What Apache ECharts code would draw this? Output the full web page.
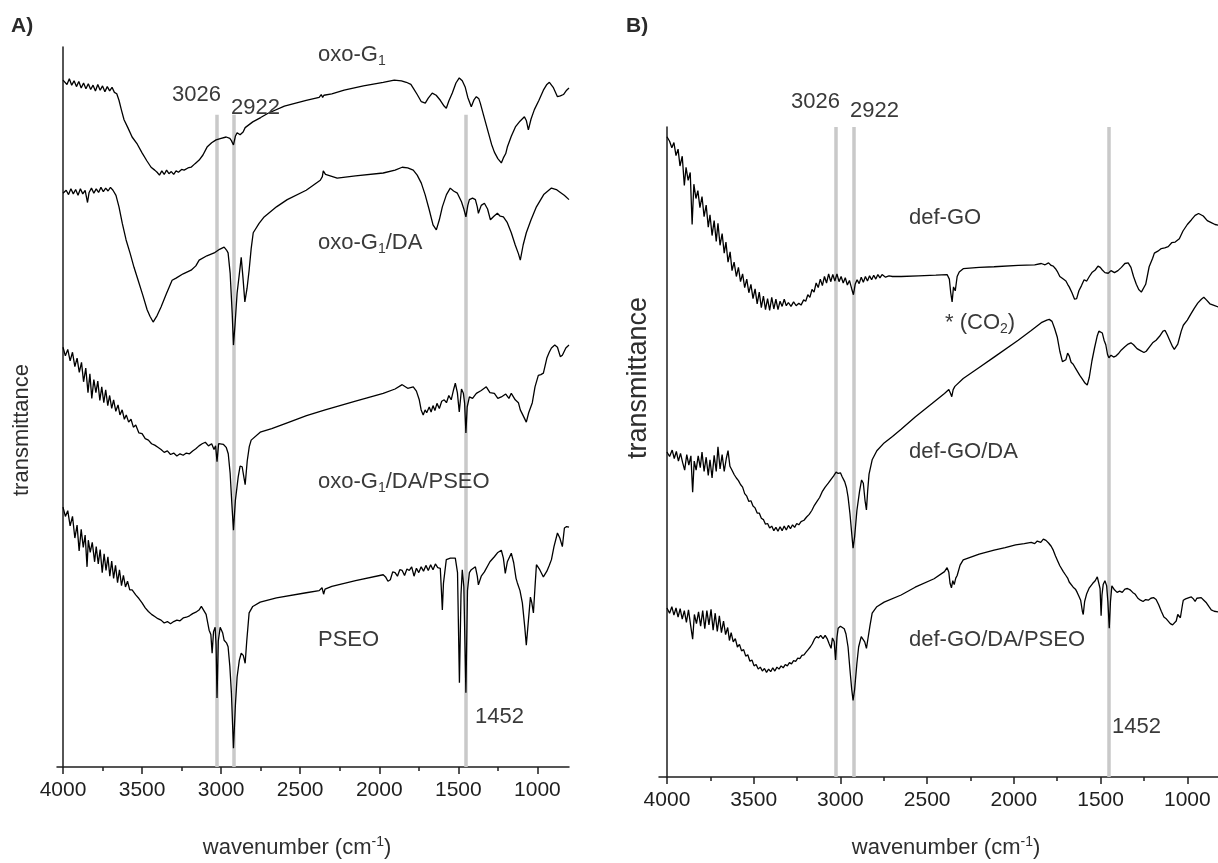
<!DOCTYPE html>
<html><head><meta charset="utf-8">
<script src="https://cdn.jsdelivr.net/npm/echarts@6/dist/echarts.min.js"></script>
<style>html,body{margin:0;padding:0;background:#fff}#c{width:1218px;height:863px}</style>
</head><body><div id="c"></div>
<script>
// ---------- tick labels / categories ----------
const wavenumberTicks = [4000, 3500, 3000, 2500, 2000, 1500, 1000];
const minorTicks = [3750, 3250, 2750, 2250, 1750, 1250];
const markedBands = [3026, 2922, 1452];

// ---------- panel A spectra [wavenumber, transmittance (a.u., offset)] ----------
const oxoG1 = [[4000,95.4],[3975,94.8],[3960,95.6],[3945,94.7],[3930,95.3],[3915,94.5],[3900,95.2],[3885,94.3],[3870,95.0],[3855,94.2],[3840,94.9],[3825,94.1],[3810,94.7],[3795,93.9],[3780,94.8],[3765,94.0],[3750,94.6],[3735,93.8],[3720,94.5],[3705,93.9],[3690,94.4],[3675,93.7],[3660,93.5],[3646,92.6],[3630,91.2],[3614,89.9],[3590,88.8],[3563,87.5],[3530,86.5],[3500,85.3],[3470,84.2],[3443,83.3],[3420,82.9],[3405,82.6],[3390,82.2],[3375,82.8],[3360,82.3],[3345,82.9],[3330,82.4],[3315,82.7],[3300,82.3],[3285,82.8],[3270,82.6],[3250,83.0],[3234,82.9],[3210,83.2],[3190,83.3],[3165,83.8],[3139,84.3],[3115,85.0],[3089,86.1],[3060,86.7],[3032,87.1],[3000,87.3],[2968,87.5],[2945,87.3],[2935,87.0],[2922,86.4],[2910,87.6],[2899,88.1],[2880,87.8],[2861,88.2],[2848,88.8],[2800,89.6],[2750,90.2],[2703,90.8],[2600,91.8],[2462,92.6],[2380,93.0],[2367,93.4],[2358,93.0],[2350,93.3],[2300,93.5],[2222,94.0],[2100,94.6],[1975,95.1],[1905,95.4],[1860,95.3],[1829,95.1],[1800,94.8],[1785,94.3],[1760,93.4],[1734,92.4],[1709,92.2],[1690,92.9],[1665,93.6],[1640,93.3],[1614,92.6],[1590,91.8],[1576,91.5],[1560,92.5],[1538,93.6],[1515,95.0],[1494,95.7],[1475,95.3],[1456,94.4],[1440,93.0],[1418,91.7],[1400,92.7],[1386,93.1],[1370,92.8],[1361,92.2],[1340,90.5],[1310,88.1],[1290,86.5],[1272,85.4],[1250,84.5],[1228,83.9],[1215,84.6],[1200,85.2],[1190,86.1],[1165,87.6],[1139,88.9],[1110,89.7],[1082,90.3],[1070,89.8],[1057,88.5],[1040,90.0],[1019,91.3],[990,92.6],[962,94.0],[940,94.8],[924,95.1],[900,94.4],[873,93.1],[855,93.2],[835,93.4],[815,94.0],[800,94.3]];

const oxoG1DA = [[4000,79.7],[3980,80.1],[3965,79.5],[3950,80.3],[3935,79.6],[3920,80.2],[3905,79.4],[3890,80.3],[3875,79.6],[3860,80.1],[3845,78.4],[3835,79.8],[3820,80.4],[3805,79.7],[3790,80.3],[3775,79.8],[3760,80.5],[3745,79.9],[3730,80.4],[3715,80.0],[3700,80.5],[3684,80.1],[3665,79.4],[3646,77.8],[3625,75.5],[3601,73.2],[3575,71.3],[3551,69.4],[3525,67.6],[3495,65.5],[3468,63.5],[3450,62.6],[3430,61.8],[3405,62.7],[3380,63.9],[3345,65.8],[3310,67.6],[3285,67.9],[3240,68.5],[3190,69.0],[3160,69.6],[3139,70.4],[3090,71.0],[3044,71.4],[3010,71.9],[2981,72.2],[2966,71.8],[2956,71.4],[2943,68.6],[2930,63.0],[2922,58.6],[2912,61.5],[2899,65.8],[2880,69.4],[2873,70.8],[2862,68.0],[2850,64.6],[2836,66.5],[2823,69.0],[2810,72.0],[2797,74.2],[2760,75.5],[2728,76.4],[2650,77.8],[2582,78.8],[2462,80.1],[2373,81.5],[2360,82.0],[2354,82.8],[2340,82.3],[2329,82.2],[2266,81.8],[2150,82.1],[1975,82.5],[1900,82.9],[1855,83.3],[1820,83.2],[1785,82.9],[1760,82.2],[1734,81.1],[1710,79.5],[1684,77.4],[1660,75.3],[1639,74.6],[1620,76.0],[1601,77.8],[1575,79.5],[1551,80.4],[1530,80.0],[1506,79.7],[1480,78.5],[1465,77.5],[1452,76.4],[1440,78.0],[1430,78.8],[1410,79.0],[1392,78.8],[1380,77.8],[1373,76.9],[1355,78.0],[1335,78.3],[1315,77.5],[1297,76.0],[1275,76.5],[1253,76.9],[1235,76.5],[1215,76.4],[1190,75.6],[1165,74.2],[1140,72.5],[1120,71.3],[1108,70.4],[1090,72.5],[1070,74.2],[1040,76.0],[1006,77.8],[960,79.5],[911,80.4],[880,80.2],[861,79.9],[830,79.4],[800,78.8]];

const oxoG1DAPSEO = [[4000,58.3],[3985,57.1],[3970,58.0],[3955,56.4],[3940,57.6],[3925,55.6],[3911,56.8],[3897,54.8],[3883,56.2],[3870,53.5],[3856,55.4],[3842,52.0],[3830,54.6],[3818,51.2],[3805,53.8],[3792,52.0],[3780,53.6],[3767,50.9],[3755,52.8],[3742,50.6],[3730,52.4],[3717,50.2],[3705,51.6],[3692,49.8],[3680,51.0],[3666,49.4],[3652,50.3],[3640,48.9],[3626,49.6],[3612,48.3],[3600,48.9],[3585,47.9],[3570,48.3],[3555,47.2],[3540,47.5],[3520,46.4],[3500,46.3],[3480,45.6],[3460,45.4],[3440,44.9],[3420,44.7],[3400,44.4],[3380,44.1],[3360,43.7],[3340,43.9],[3320,43.4],[3300,43.6],[3280,43.2],[3260,43.5],[3240,43.3],[3220,43.6],[3200,43.5],[3180,43.9],[3160,44.2],[3140,44.6],[3120,44.9],[3100,45.1],[3080,44.6],[3060,44.9],[3045,44.1],[3035,44.6],[3026,42.4],[3016,44.9],[3006,45.1],[2985,44.8],[2968,44.4],[2955,43.5],[2943,40.8],[2932,36.5],[2922,32.9],[2910,37.0],[2892,40.3],[2880,41.8],[2867,41.7],[2858,40.5],[2848,39.2],[2835,42.5],[2822,44.5],[2810,45.4],[2753,46.5],[2680,47.0],[2582,47.8],[2460,48.8],[2342,49.6],[2150,50.8],[1975,51.9],[1900,52.5],[1855,53.1],[1820,52.6],[1785,52.8],[1765,52.2],[1747,51.0],[1735,49.6],[1722,48.9],[1710,49.6],[1700,49.2],[1684,50.0],[1672,49.3],[1660,50.2],[1648,49.5],[1635,50.5],[1620,49.8],[1605,50.8],[1589,51.0],[1575,50.6],[1560,51.6],[1545,51.0],[1530,52.4],[1519,53.3],[1506,52.0],[1494,49.3],[1480,52.5],[1468,51.9],[1460,50.5],[1452,46.4],[1444,50.0],[1430,51.4],[1410,51.2],[1386,51.9],[1355,52.3],[1323,52.8],[1300,52.0],[1272,51.9],[1250,51.2],[1228,51.4],[1200,51.8],[1180,51.2],[1165,51.9],[1140,51.0],[1120,50.6],[1108,49.6],[1090,48.8],[1070,47.9],[1055,49.2],[1045,49.0],[1032,50.6],[1015,52.8],[994,54.4],[978,54.5],[962,54.7],[940,56.8],[925,57.6],[911,58.2],[890,58.6],[873,58.3],[855,57.0],[842,57.2],[820,58.2],[800,58.6]];

const PSEO = [[4000,36.1],[3985,34.8],[3970,35.6],[3955,33.5],[3940,34.8],[3925,31.8],[3911,33.6],[3898,30.0],[3885,33.0],[3872,30.5],[3860,32.2],[3848,27.8],[3840,31.5],[3828,29.8],[3815,31.2],[3800,28.5],[3790,30.6],[3777,28.2],[3765,30.2],[3752,27.0],[3740,29.6],[3728,27.3],[3716,29.2],[3704,26.5],[3692,28.6],[3680,26.2],[3668,28.0],[3655,25.6],[3643,27.4],[3630,25.2],[3618,26.6],[3605,25.0],[3592,25.8],[3578,24.6],[3563,24.6],[3540,23.9],[3520,23.4],[3500,22.8],[3480,22.1],[3460,21.6],[3440,21.2],[3420,20.9],[3400,20.6],[3380,20.4],[3360,20.0],[3340,20.2],[3320,19.9],[3300,20.2],[3280,20.4],[3260,20.3],[3240,20.7],[3220,20.8],[3200,21.0],[3180,21.3],[3160,21.5],[3140,21.8],[3125,22.3],[3114,22.1],[3095,21.2],[3076,19.0],[3065,18.4],[3057,15.8],[3048,18.8],[3038,19.4],[3032,17.0],[3026,9.6],[3018,17.5],[3006,19.4],[2990,18.6],[2981,17.6],[2965,17.2],[2956,16.7],[2945,14.0],[2935,10.3],[2922,2.6],[2910,8.5],[2899,12.5],[2885,14.8],[2873,15.8],[2860,15.5],[2848,14.4],[2838,17.5],[2823,21.4],[2800,22.3],[2753,22.9],[2650,23.5],[2462,24.2],[2380,24.5],[2362,24.9],[2352,24.0],[2343,24.7],[2300,25.1],[2150,25.9],[1975,26.7],[1960,26.4],[1945,25.8],[1930,26.0],[1915,27.1],[1900,27.0],[1885,26.5],[1870,27.4],[1855,27.3],[1840,26.6],[1825,27.5],[1810,27.3],[1795,27.8],[1780,26.5],[1765,27.6],[1750,27.0],[1735,27.8],[1720,27.2],[1705,28.0],[1690,27.3],[1675,28.1],[1660,27.4],[1645,28.2],[1630,27.7],[1614,27.6],[1608,25.0],[1601,21.8],[1594,25.5],[1576,28.8],[1550,29.0],[1519,29.0],[1505,27.0],[1493,11.7],[1483,24.0],[1475,27.4],[1465,25.0],[1452,10.3],[1442,24.5],[1430,27.0],[1418,27.4],[1392,27.8],[1380,26.5],[1373,25.3],[1355,26.5],[1335,27.1],[1300,28.5],[1272,29.2],[1250,29.8],[1228,30.1],[1215,29.0],[1203,26.9],[1190,28.5],[1165,29.7],[1150,28.4],[1135,26.2],[1127,25.6],[1110,24.5],[1095,22.8],[1080,19.5],[1070,16.9],[1060,19.5],[1044,23.6],[1035,22.8],[1025,21.4],[1015,25.0],[1006,28.1],[985,27.4],[962,26.4],[940,27.2],[925,28.0],[911,28.8],[895,30.6],[873,32.5],[858,31.8],[842,30.6],[829,33.2],[815,33.4],[800,33.3]];

// ---------- panel B spectra ----------
const defGO = [[4000,98.5],[3985,97.8],[3972,96.8],[3960,97.6],[3948,95.6],[3936,96.6],[3925,94.0],[3912,95.5],[3900,91.0],[3890,93.8],[3878,91.8],[3866,93.0],[3855,85.0],[3845,91.2],[3833,89.0],[3822,90.2],[3810,87.6],[3798,89.3],[3786,86.2],[3774,88.0],[3762,84.6],[3752,86.5],[3740,83.3],[3728,85.6],[3716,82.4],[3706,85.2],[3694,81.8],[3682,83.6],[3670,80.6],[3660,82.3],[3648,79.2],[3636,80.8],[3625,77.9],[3613,79.2],[3600,77.0],[3588,78.4],[3576,76.2],[3564,77.4],[3552,75.3],[3540,76.6],[3528,74.5],[3516,75.8],[3504,73.6],[3492,75.1],[3480,72.8],[3468,74.6],[3456,72.2],[3444,74.0],[3432,71.9],[3420,73.6],[3408,71.8],[3396,73.8],[3384,72.0],[3372,73.5],[3360,71.9],[3348,73.2],[3336,72.4],[3324,73.5],[3312,72.5],[3300,73.0],[3285,72.4],[3270,73.1],[3255,72.5],[3240,72.9],[3227,72.6],[3212,73.4],[3200,73.2],[3188,74.2],[3176,73.8],[3164,75.0],[3152,74.6],[3140,76.0],[3128,75.3],[3116,76.6],[3104,75.6],[3092,77.0],[3080,76.0],[3068,77.4],[3056,76.2],[3044,77.3],[3032,76.3],[3020,77.4],[3008,76.2],[2996,77.0],[2984,76.0],[2972,76.8],[2960,75.7],[2948,76.4],[2936,75.2],[2925,74.2],[2915,75.8],[2904,76.5],[2892,75.9],[2880,76.9],[2868,76.1],[2856,77.0],[2844,76.3],[2832,77.1],[2820,76.5],[2808,77.2],[2796,76.6],[2784,77.3],[2772,76.8],[2760,77.3],[2740,76.9],[2720,77.1],[2700,77.0],[2650,77.0],[2550,77.1],[2450,77.2],[2385,77.3],[2372,76.6],[2364,74.5],[2356,73.1],[2348,75.4],[2338,74.8],[2327,77.0],[2315,77.7],[2292,78.2],[2200,78.4],[2114,78.5],[1975,78.7],[1880,78.8],[1842,79.0],[1820,78.8],[1800,79.1],[1785,78.7],[1773,78.6],[1760,78.2],[1750,77.8],[1735,77.0],[1715,76.6],[1700,76.3],[1690,75.8],[1681,75.4],[1665,74.5],[1650,73.5],[1638,73.6],[1625,74.8],[1610,75.6],[1595,76.5],[1580,76.3],[1565,77.0],[1550,77.6],[1531,78.0],[1515,78.6],[1502,78.4],[1490,78.0],[1475,77.6],[1456,77.5],[1440,77.9],[1420,77.6],[1400,77.9],[1380,78.4],[1360,79.0],[1341,79.1],[1325,78.4],[1310,77.0],[1294,75.8],[1280,75.0],[1265,74.6],[1254,74.6],[1240,75.8],[1220,78.5],[1200,79.8],[1190,80.6],[1170,80.9],[1150,81.3],[1130,81.4],[1110,81.6],[1090,82.2],[1070,82.3],[1046,82.8],[1025,84.0],[1000,85.0],[977,85.7],[955,86.4],[935,86.7],[908,86.3],[885,85.6],[862,85.3],[840,85.0],[821,84.9]];

const defGODA = [[4000,50.0],[3985,49.3],[3970,50.3],[3958,49.0],[3946,50.1],[3934,48.6],[3922,49.8],[3910,48.4],[3898,47.2],[3886,49.6],[3874,48.0],[3862,49.4],[3852,43.8],[3843,48.6],[3832,47.2],[3820,49.4],[3808,47.6],[3798,50.0],[3786,47.0],[3774,49.2],[3762,46.4],[3752,48.8],[3740,46.0],[3728,49.5],[3716,47.0],[3706,50.8],[3694,47.4],[3682,49.6],[3670,47.0],[3658,49.0],[3648,50.2],[3637,47.8],[3625,47.2],[3612,46.5],[3600,46.0],[3588,45.6],[3576,45.0],[3564,44.6],[3552,43.6],[3540,43.2],[3528,42.4],[3516,42.5],[3504,41.7],[3492,41.4],[3480,40.6],[3468,40.6],[3456,39.8],[3444,39.6],[3432,38.9],[3420,39.0],[3408,38.3],[3396,38.6],[3384,37.9],[3372,38.4],[3360,37.8],[3348,38.5],[3336,37.9],[3324,38.6],[3312,38.0],[3300,38.7],[3288,38.2],[3276,38.8],[3264,38.4],[3252,39.0],[3240,38.8],[3227,39.3],[3210,39.5],[3195,40.0],[3180,40.4],[3165,41.0],[3150,41.8],[3135,42.4],[3120,43.0],[3105,43.9],[3088,44.6],[3070,45.2],[3054,45.8],[3040,46.3],[3025,46.9],[3013,46.7],[3000,46.8],[2990,46.2],[2975,45.4],[2965,44.5],[2956,43.1],[2945,40.5],[2935,37.5],[2927,35.2],[2918,37.0],[2905,41.0],[2890,43.9],[2878,45.7],[2868,45.2],[2858,42.5],[2850,41.1],[2843,44.0],[2835,46.6],[2817,48.8],[2790,50.2],[2748,51.4],[2700,52.4],[2650,53.5],[2569,55.4],[2470,57.5],[2400,59.0],[2375,59.6],[2365,59.0],[2358,58.5],[2350,59.6],[2340,60.1],[2292,61.3],[2200,63.0],[2114,64.6],[1975,67.2],[1900,68.7],[1842,69.9],[1810,70.3],[1796,70.4],[1780,70.1],[1765,69.0],[1750,67.7],[1735,65.5],[1720,63.9],[1710,63.6],[1700,64.2],[1690,65.2],[1681,64.8],[1670,63.8],[1658,63.5],[1645,62.9],[1635,62.6],[1620,61.8],[1605,61.2],[1590,60.6],[1577,60.3],[1565,61.5],[1550,64.0],[1535,66.0],[1520,67.8],[1510,68.6],[1500,68.8],[1490,68.3],[1480,67.2],[1470,66.5],[1460,65.0],[1452,64.5],[1440,64.9],[1425,64.6],[1410,64.8],[1395,65.2],[1380,65.7],[1360,66.2],[1341,66.6],[1325,66.8],[1310,66.5],[1290,65.9],[1270,65.6],[1250,65.3],[1237,65.5],[1220,66.1],[1200,66.8],[1180,67.2],[1160,67.8],[1140,68.6],[1128,68.7],[1115,68.0],[1105,67.4],[1095,67.1],[1085,66.2],[1075,65.8],[1064,65.7],[1055,66.6],[1046,67.5],[1035,68.6],[1023,69.5],[1000,70.3],[980,71.2],[960,72.1],[940,72.9],[919,73.5],[905,73.8],[890,73.4],[870,72.8],[850,72.6],[821,72.3]];

const defGODAPSEO = [[4000,26.0],[3985,25.2],[3972,26.2],[3960,24.9],[3948,26.0],[3936,24.6],[3924,25.9],[3912,24.3],[3900,25.6],[3888,23.8],[3876,25.7],[3864,23.4],[3852,21.2],[3842,25.0],[3830,23.6],[3818,25.4],[3806,23.2],[3794,25.6],[3782,22.8],[3770,25.6],[3758,23.4],[3746,25.8],[3734,22.6],[3722,25.2],[3710,22.4],[3698,24.8],[3686,22.2],[3674,24.0],[3662,21.9],[3650,23.0],[3640,21.0],[3630,22.2],[3618,20.8],[3606,21.3],[3594,20.0],[3582,20.4],[3570,19.4],[3558,19.6],[3546,18.6],[3534,18.8],[3522,17.8],[3510,18.0],[3498,17.1],[3486,17.3],[3474,16.6],[3462,16.9],[3450,16.3],[3438,16.7],[3426,16.1],[3414,16.6],[3402,16.2],[3390,16.8],[3378,16.3],[3366,16.9],[3354,16.6],[3342,17.1],[3330,16.8],[3318,17.3],[3306,17.1],[3294,17.6],[3282,17.4],[3270,17.9],[3258,17.8],[3246,18.3],[3234,18.2],[3222,18.7],[3210,18.8],[3198,19.2],[3186,19.6],[3174,20.0],[3162,20.5],[3150,21.2],[3138,21.6],[3126,21.4],[3114,21.8],[3100,21.3],[3088,21.8],[3075,21.2],[3065,20.5],[3054,19.8],[3046,21.4],[3036,20.8],[3028,18.0],[3020,21.5],[3013,22.9],[3000,23.2],[2990,23.4],[2978,22.8],[2968,22.0],[2956,20.0],[2945,16.5],[2935,13.5],[2927,11.8],[2918,13.5],[2905,17.5],[2895,20.0],[2880,21.6],[2870,21.8],[2860,20.8],[2850,19.8],[2840,21.5],[2830,23.2],[2817,25.2],[2790,26.2],[2748,26.9],[2650,28.0],[2569,29.2],[2460,30.5],[2400,31.6],[2385,32.2],[2375,31.5],[2368,29.8],[2360,29.1],[2352,30.2],[2344,29.6],[2335,30.6],[2327,31.0],[2310,32.6],[2292,33.4],[2200,34.3],[2114,34.9],[2050,35.3],[1990,35.7],[1940,35.9],[1900,36.1],[1880,35.9],[1865,36.3],[1845,36.1],[1830,36.6],[1815,36.4],[1800,36.0],[1785,35.5],[1773,34.9],[1760,34.0],[1750,33.4],[1735,32.5],[1715,31.6],[1700,31.0],[1690,30.6],[1681,30.0],[1670,29.8],[1658,29.2],[1645,28.9],[1635,28.4],[1625,27.8],[1615,27.2],[1605,25.5],[1600,25.0],[1592,27.0],[1580,28.2],[1565,29.1],[1545,29.8],[1531,30.2],[1519,30.8],[1510,30.5],[1503,29.0],[1497,24.8],[1492,28.0],[1485,29.6],[1475,30.2],[1465,29.4],[1458,27.0],[1450,22.9],[1443,27.0],[1435,29.4],[1420,28.8],[1405,28.4],[1390,28.6],[1375,28.4],[1360,28.9],[1345,29.0],[1330,28.8],[1315,28.4],[1300,28.1],[1285,27.5],[1270,27.2],[1255,27.0],[1240,27.3],[1225,27.2],[1210,27.5],[1195,27.6],[1180,27.3],[1165,26.5],[1150,25.5],[1135,24.6],[1120,24.3],[1110,24.0],[1098,23.6],[1085,23.4],[1075,23.4],[1064,24.0],[1055,25.0],[1046,25.2],[1040,24.5],[1035,24.3],[1028,26.5],[1023,27.2],[1010,27.4],[1000,27.6],[990,27.6],[977,27.7],[965,27.4],[955,27.0],[945,27.5],[935,27.8],[920,27.6],[905,27.2],[890,26.8],[875,26.2],[862,25.7],[845,25.5],[821,25.4]];

// ---------- build chart ----------
const FONT = '"Liberation Sans", Arial, Helvetica, sans-serif';
const AXIS_COLOR = '#1e1e1e';
const TEXT_COLOR = '#3a3a3a';

function txt(x, y, text, o) {
  o = o || {};
  const size = o.size || 22, color = o.color || TEXT_COLOR, lh = Math.round(size * 1.2);
  const small = Math.round(size * 0.62);
  return {
    type: 'text', x: x, y: y, rotation: o.rotation || 0, silent: true, z: 10,
    style: {
      text: text, fill: color, fontSize: size, fontFamily: FONT, fontWeight: o.weight || 'normal',
      lineHeight: lh, align: o.align || 'left', verticalAlign: 'middle',
      rich: {
        n: { fontSize: size, fontFamily: FONT, fill: color, lineHeight: lh, fontWeight: o.weight || 'normal' },
        sub: { fontSize: small, fontFamily: FONT, fill: color, lineHeight: small, verticalAlign: 'bottom' },
        sup: { fontSize: small, fontFamily: FONT, fill: color, lineHeight: small, verticalAlign: 'top' }
      }
    }
  };
}

function xAxesFor(gridIndex, maxWn) {
  return [
    { type: 'value', gridIndex: gridIndex, inverse: true, min: 800, max: maxWn, position: 'bottom',
      axisLine: { show: true, onZero: false, lineStyle: { color: AXIS_COLOR, width: 1.5 } },
      axisTick: { show: true, length: 7, inside: false, customValues: wavenumberTicks, lineStyle: { color: AXIS_COLOR, width: 1.5 } },
      axisLabel: { show: true, margin: 13, fontSize: 21, color: AXIS_COLOR, fontFamily: FONT,
                   customValues: wavenumberTicks, formatter: v => String(Math.round(v)) },
      splitLine: { show: false } },
    { type: 'value', gridIndex: gridIndex, inverse: true, min: 800, max: maxWn, position: 'bottom',
      axisLine: { show: false, onZero: false },
      axisTick: { show: true, length: 4, inside: false, customValues: minorTicks, lineStyle: { color: AXIS_COLOR, width: 1.5 } },
      axisLabel: { show: false }, splitLine: { show: false } }
  ];
}
function yAxisFor(gridIndex, offset) {
  return { type: 'value', gridIndex: gridIndex, min: 0, max: 100, offset: offset,
    axisLine: { show: true, onZero: false, lineStyle: { color: AXIS_COLOR, width: 1.5 } },
    axisTick: { show: false }, axisLabel: { show: false }, splitLine: { show: false } };
}
function curve(data, xi, yi, marks, markTop) {
  const s = { type: 'line', data: data, xAxisIndex: xi, yAxisIndex: yi, showSymbol: false, symbol: 'none',
    silent: true, z: 3, lineStyle: { color: '#000', width: 1.3 }, emphasis: { disabled: true } };
  if (marks) {
    s.markLine = { silent: true, z: 1, symbol: ['none', 'none'], label: { show: false },
      emphasis: { disabled: true },
      lineStyle: { color: '#c9c9c9', width: 3.5, type: 'solid' },
      data: marks.map(b => [{ coord: [b, 0] }, { coord: [b, markTop] }]) };
  }
  return s;
}

const chart = echarts.init(document.getElementById('c'), null, { renderer: 'canvas', width: 1218, height: 863 });
chart.setOption({
  animation: false,
  backgroundColor: '#ffffff',
  grid: [
    { left: 57, top: 47, width: 512, height: 720, outerBoundsMode: 'none' },
    { left: 659, top: 127, width: 563, height: 650, outerBoundsMode: 'none' }
  ],
  xAxis: xAxesFor(0, 4038).concat(xAxesFor(1, 4046)),
  yAxis: [yAxisFor(0, -6), yAxisFor(1, -8)],
  series: [
    curve(oxoG1, 0, 0, markedBands, 90.6),
    curve(oxoG1DA, 0, 0),
    curve(oxoG1DAPSEO, 0, 0),
    curve(PSEO, 0, 0),
    curve(defGO, 2, 1, markedBands, 100),
    curve(defGODA, 2, 1),
    curve(defGODAPSEO, 2, 1)
  ],
  graphic: [
    txt(11, 26, 'A)', { size: 21, weight: 'bold', color: '#2a2a2a' }),
    txt(626, 26, 'B)', { size: 21, weight: 'bold', color: '#2a2a2a' }),
    // panel A
    txt(318, 55, '{n|oxo-G}{sub|1}'),
    txt(172, 95, '3026'),
    txt(231, 108, '2922'),
    txt(318, 243, '{n|oxo-G}{sub|1}{n|/DA}'),
    txt(318, 482, '{n|oxo-G}{sub|1}{n|/DA/PSEO}'),
    txt(318, 640, 'PSEO'),
    txt(475, 717, '1452'),
    txt(297, 848, '{n|wavenumber (cm}{sup|-1}{n|)}', { align: 'center', color: '#2e2e2e' }),
    txt(22, 430, 'transmittance', { align: 'center', rotation: Math.PI / 2, color: '#2e2e2e' }),
    // panel B
    txt(791, 102, '3026'),
    txt(850, 111, '2922'),
    txt(909, 218, 'def-GO'),
    txt(945, 323, '{n|* (CO}{sub|2}{n|)}'),
    txt(909, 452, 'def-GO/DA'),
    txt(909, 640, 'def-GO/DA/PSEO'),
    txt(1112, 727, '1452'),
    txt(946, 848, '{n|wavenumber (cm}{sup|-1}{n|)}', { align: 'center', color: '#2e2e2e' }),
    txt(639, 378, 'transmittance', { size: 27, align: 'center', rotation: Math.PI / 2, color: '#2e2e2e' })
  ]
});
</script>
</body></html>
